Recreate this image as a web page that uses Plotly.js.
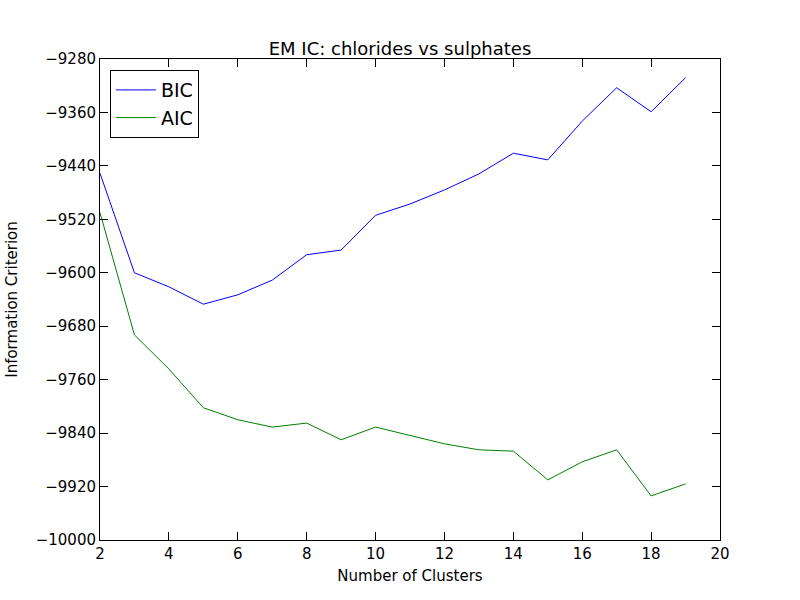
<!DOCTYPE html>
<html>
<head>
<meta charset="utf-8">
<script src="https://cdn.plot.ly/plotly-3.0.1.min.js"></script>
<style>
  body { margin: 0; }
  #chart { width: 800px; height: 600px; }
</style>
</head>
<body>
<div id="chart"></div>
<script>
const clusters = [2, 3, 4, 5, 6, 7, 8, 9, 10, 11, 12, 13, 14, 15, 16, 17, 18, 19];
const bic = [-9451, -9600, -9621, -9647, -9633, -9611, -9573, -9566, -9514, -9497,
             -9476, -9452, -9421, -9431, -9373, -9323, -9359, -9308];
const aic = [-9510, -9693, -9744, -9802, -9820, -9831, -9825, -9850, -9831, -9844,
             -9856, -9865, -9867, -9910, -9883, -9865, -9934, -9916];

const axisStyle = {
  showgrid: false, zeroline: false, showline: true, mirror: 'ticks',
  linecolor: 'black', linewidth: 1, ticks: 'inside', ticklen: 8,
  tickcolor: 'black', tickfont: {size: 15, color: 'black'}
};

const data = [
  {x: clusters, y: bic, type: 'scatter', mode: 'lines', name: 'BIC', line: {color: '#0000ff', width: 1}},
  {x: clusters, y: aic, type: 'scatter', mode: 'lines', name: 'AIC', line: {color: '#008000', width: 1}}
];

const layout = {
  width: 800, height: 600,
  margin: {l: 100, r: 80, t: 59, b: 60},
  paper_bgcolor: 'white', plot_bgcolor: 'white',
  font: {family: 'DejaVu Sans', color: 'black'},
  title: {text: 'EM IC: chlorides vs sulphates', font: {size: 18},
          yref: 'paper', y: 1, yanchor: 'bottom', pad: {b: 4}},
  xaxis: Object.assign({}, axisStyle, {
    range: [2, 20], dtick: 2,
    title: {text: 'Number of Clusters', font: {size: 15}, standoff: 8}
  }),
  yaxis: Object.assign({}, axisStyle, {
    range: [-10000, -9280], dtick: 80, tick0: -10000,
    tickformat: 'd',
    title: {text: 'Information Criterion', font: {size: 15}, standoff: 14}
  }),
  showlegend: true,
  legend: {x: 0.016, y: 0.977, xanchor: 'left', yanchor: 'top',
           bordercolor: 'black', borderwidth: 1, font: {size: 19}, bgcolor: 'white',
           itemwidth: 40}
};

Plotly.newPlot('chart', data, layout, {displayModeBar: false});
</script>
</body>
</html>
